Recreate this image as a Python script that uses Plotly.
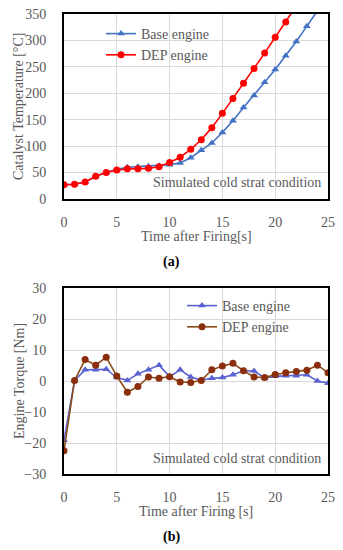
import plotly.graph_objects as go

# ---- Data (a) catalyst temperature ----
time_a = list(range(0, 26))
base_temp = [27, 28, 32, 43, 50, 56, 60, 61, 62, 63, 65, 68, 78, 92, 106, 126, 148, 173, 196, 221, 245, 271, 298, 327, 356, 385]
dep_temp = [27, 28, 32, 43, 50, 55, 57, 57, 58, 61, 69, 79, 94, 112, 135, 162, 190, 219, 247, 276, 306, 335, 365, 395, 425, 455]

# ---- Data (b) engine torque ----
time_b = list(range(0, 26))
base_torque = [-19.1, 0.2, 3.6, 3.6, 3.8, 1.1, 0.2, 2.3, 3.6, 5.1, 1.4, 3.6, 1.3, 0.3, 0.9, 1.1, 2.0, 3.3, 3.2, 1.0, 1.5, 1.7, 1.7, 2.0, 0.0, -0.7]
dep_torque = [-22.5, 0.2, 6.9, 5.1, 7.7, 1.6, -3.6, -1.8, 1.3, 0.9, 1.4, -0.3, -0.5, 0.2, 3.6, 4.8, 5.7, 3.3, 1.3, 1.1, 2.1, 2.7, 3.1, 3.5, 5.1, 2.7]

OFF = 8  # page body margin
W, H = 343 - OFF, 550 - OFF
def px_x(p): return (p - OFF) / W
def px_y(p): return 1 - (p - OFF) / H

FONT = "Liberation Serif"
GRAY = "#595959"

fig = go.Figure()

fig.add_trace(go.Scatter(x=time_a, y=base_temp, name="Base engine", mode="lines+markers",
                         line=dict(color="#4472C4", width=1.6),
                         marker=dict(symbol="triangle-up", size=7, color="#4472C4"),
                         xaxis="x", yaxis="y", legend="legend"))
fig.add_trace(go.Scatter(x=time_a, y=dep_temp, name="DEP engine", mode="lines+markers",
                         line=dict(color="#FF0000", width=1.6),
                         marker=dict(symbol="circle", size=7, color="#FF0000"),
                         xaxis="x", yaxis="y", legend="legend"))

fig.add_trace(go.Scatter(x=time_b, y=base_torque, name="Base engine", mode="lines+markers",
                         line=dict(color="#5A62D0", width=1.6),
                         marker=dict(symbol="triangle-up", size=7, color="#5A62D0"),
                         xaxis="x2", yaxis="y2", legend="legend2"))
fig.add_trace(go.Scatter(x=time_b, y=dep_torque, name="DEP engine", mode="lines+markers",
                         line=dict(color="#8A4A1A", width=1.6),
                         marker=dict(symbol="circle", size=7, color="#8B2E0E"),
                         xaxis="x2", yaxis="y2", legend="legend2"))

xdom = [px_x(64), px_x(328)]
axis_common = dict(showgrid=True, gridcolor="#D9D9D9", gridwidth=1,
                   showline=True, linecolor="black", linewidth=2, mirror=True,
                   ticks="", zeroline=False, automargin=False, ticklabeloverflow="allow",
                   tickfont=dict(family=FONT, size=14, color=GRAY))

fig.update_layout(
    width=W, height=H,
    margin=dict(l=0, r=0, t=0, b=0, autoexpand=False),
    paper_bgcolor="white", plot_bgcolor="white",
    font=dict(family=FONT, color=GRAY),
    xaxis=dict(domain=xdom, range=[0, 25], dtick=5, anchor="y", ticklabelstandoff=9, **axis_common),
    yaxis=dict(domain=[px_y(199), px_y(14)], range=[0, 350], dtick=50, anchor="x", ticklabelstandoff=13, **axis_common),
    xaxis2=dict(domain=xdom, range=[0, 25], dtick=5, anchor="y2", ticklabelstandoff=9, **axis_common),
    yaxis2=dict(domain=[px_y(474), px_y(288)], range=[-30, 30], dtick=10, anchor="x2", ticklabelstandoff=13, **axis_common),
    legend=dict(x=px_x(101), y=px_y(18), xanchor="left", yanchor="top",
                bgcolor="rgba(0,0,0,0)", itemwidth=30, tracegroupgap=0,
                font=dict(family=FONT, size=14, color=GRAY)),
    legend2=dict(x=px_x(182), y=px_y(290), xanchor="left", yanchor="top",
                 bgcolor="rgba(0,0,0,0)", itemwidth=30, tracegroupgap=0,
                 font=dict(family=FONT, size=14, color=GRAY)),
    showlegend=True,
)

def note(text, x, y, size=14, color=GRAY, angle=0, xanchor="center"):
    return dict(text=text, x=px_x(x), y=px_y(y), xref="paper", yref="paper",
                xanchor=xanchor, yanchor="middle", textangle=angle, showarrow=False,
                font=dict(family=FONT, size=size, color=color))

ann = [
    note("Catalyst Temperature [°C]", 19, 107, angle=-90),
    note("Engine Torque [Nm]", 19, 381, angle=-90),
    note("Time after Firing[s]", 196, 237),
    note("Time after Firing [s]", 196, 511),
    note("Simulated cold strat condition", 323, 183, xanchor="right"),
    note("Simulated cold strat condition", 323, 458, xanchor="right"),
    note("<b>(a)</b>", 171, 262, size=14, color="black"),
    note("<b>(b)</b>", 171, 537, size=14, color="black"),
]
fig.update_layout(annotations=ann)

fig.write_html("out.html")
